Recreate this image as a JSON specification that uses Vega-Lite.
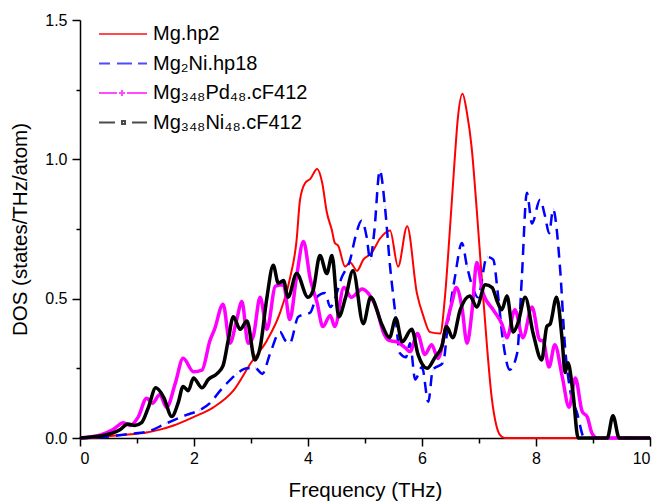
{
  "$schema": "https://vega.github.io/schema/vega-lite/v6.json",
  "width": 570,
  "height": 418,
  "autosize": "none",
  "padding": {"left": 80, "top": 20, "right": 9, "bottom": 63},
  "background": "white",
  "config": {
    "font": "Liberation Sans",
    "view": {"stroke": null},
    "axis": {"grid": false, "domainColor": "#000", "domainWidth": 1.5, "tickColor": "#000", "tickWidth": 1.5, "labelColor": "#000", "labelFontSize": 16, "titleColor": "#000", "titleFontSize": 20.5, "titleFontWeight": "normal", "labelFont": "Liberation Sans", "titleFont": "Liberation Sans"}
  },
  "datasets": {
    "d": [
      {"s":"a","x":0,"y":0},{"s":"a","x":0.3,"y":0.002},{"s":"a","x":0.53,"y":0.007},{"s":"a","x":0.8,"y":0.012},{"s":"a","x":1.17,"y":0.02},{"s":"a","x":1.4,"y":0.03},{"s":"a","x":1.64,"y":0.045},{"s":"a","x":1.99,"y":0.075},{"s":"a","x":2.34,"y":0.11},{"s":"a","x":2.69,"y":0.17},{"s":"a","x":3.0,"y":0.27},{"s":"a","x":3.28,"y":0.35},{"s":"a","x":3.51,"y":0.45},{"s":"a","x":3.68,"y":0.57},{"s":"a","x":3.8,"y":0.71},{"s":"a","x":3.86,"y":0.855},{"s":"a","x":3.95,"y":0.915},{"s":"a","x":4.04,"y":0.93},{"s":"a","x":4.16,"y":0.965},{"s":"a","x":4.25,"y":0.915},{"s":"a","x":4.33,"y":0.81},{"s":"a","x":4.42,"y":0.745},{"s":"a","x":4.47,"y":0.70},{"s":"a","x":4.53,"y":0.69},{"s":"a","x":4.65,"y":0.615},{"s":"a","x":4.74,"y":0.63},{"s":"a","x":4.86,"y":0.60},{"s":"a","x":4.97,"y":0.64},{"s":"a","x":5.12,"y":0.665},{"s":"a","x":5.26,"y":0.715},{"s":"a","x":5.44,"y":0.745},{"s":"a","x":5.58,"y":0.615},{"s":"a","x":5.74,"y":0.76},{"s":"a","x":5.91,"y":0.52},{"s":"a","x":6.02,"y":0.44},{"s":"a","x":6.14,"y":0.38},{"s":"a","x":6.32,"y":0.375},{"s":"a","x":6.40,"y":0.50},{"s":"a","x":6.48,"y":0.72},{"s":"a","x":6.56,"y":0.96},{"s":"a","x":6.63,"y":1.15},{"s":"a","x":6.71,"y":1.235},{"s":"a","x":6.79,"y":1.165},{"s":"a","x":6.87,"y":1.045},{"s":"a","x":6.96,"y":0.82},{"s":"a","x":7.05,"y":0.57},{"s":"a","x":7.14,"y":0.33},{"s":"a","x":7.22,"y":0.15},{"s":"a","x":7.31,"y":0.04},{"s":"a","x":7.37,"y":0.01},{"s":"a","x":7.45,"y":0},{"s":"a","x":10,"y":0},
      {"s":"b","x":0,"y":0},{"s":"b","x":0.3,"y":0.002},{"s":"b","x":0.58,"y":0.007},{"s":"b","x":0.88,"y":0.015},{"s":"b","x":1.17,"y":0.022},{"s":"b","x":1.52,"y":0.053},{"s":"b","x":1.87,"y":0.083},{"s":"b","x":2.1,"y":0.10},{"s":"b","x":2.28,"y":0.125},{"s":"b","x":2.46,"y":0.17},{"s":"b","x":2.57,"y":0.195},{"s":"b","x":2.75,"y":0.23},{"s":"b","x":2.93,"y":0.25},{"s":"b","x":3.08,"y":0.25},{"s":"b","x":3.2,"y":0.23},{"s":"b","x":3.33,"y":0.30},{"s":"b","x":3.51,"y":0.38},{"s":"b","x":3.6,"y":0.35},{"s":"b","x":3.68,"y":0.34},{"s":"b","x":3.83,"y":0.435},{"s":"b","x":4.04,"y":0.45},{"s":"b","x":4.15,"y":0.505},{"s":"b","x":4.3,"y":0.52},{"s":"b","x":4.39,"y":0.47},{"s":"b","x":4.6,"y":0.58},{"s":"b","x":4.74,"y":0.64},{"s":"b","x":4.83,"y":0.72},{"s":"b","x":4.94,"y":0.78},{"s":"b","x":5.03,"y":0.72},{"s":"b","x":5.09,"y":0.64},{"s":"b","x":5.16,"y":0.735},{"s":"b","x":5.26,"y":0.96},{"s":"b","x":5.35,"y":0.83},{"s":"b","x":5.44,"y":0.615},{"s":"b","x":5.53,"y":0.45},{"s":"b","x":5.61,"y":0.305},{"s":"b","x":5.72,"y":0.29},{"s":"b","x":5.79,"y":0.34},{"s":"b","x":5.88,"y":0.21},{"s":"b","x":6.0,"y":0.255},{"s":"b","x":6.11,"y":0.13},{"s":"b","x":6.19,"y":0.245},{"s":"b","x":6.37,"y":0.27},{"s":"b","x":6.46,"y":0.42},{"s":"b","x":6.58,"y":0.58},{"s":"b","x":6.70,"y":0.70},{"s":"b","x":6.79,"y":0.615},{"s":"b","x":6.89,"y":0.54},{"s":"b","x":6.98,"y":0.505},{"s":"b","x":7.14,"y":0.65},{"s":"b","x":7.25,"y":0.64},{"s":"b","x":7.33,"y":0.52},{"s":"b","x":7.42,"y":0.35},{"s":"b","x":7.54,"y":0.245},{"s":"b","x":7.67,"y":0.305},{"s":"b","x":7.75,"y":0.57},{"s":"b","x":7.84,"y":0.88},{"s":"b","x":7.93,"y":0.77},{"s":"b","x":8.07,"y":0.855},{"s":"b","x":8.16,"y":0.795},{"s":"b","x":8.23,"y":0.735},{"s":"b","x":8.30,"y":0.82},{"s":"b","x":8.42,"y":0.615},{"s":"b","x":8.51,"y":0.325},{"s":"b","x":8.6,"y":0.17},{"s":"b","x":8.72,"y":0.09},{"s":"b","x":8.85,"y":0},{"s":"b","x":10,"y":0},
      {"s":"c","x":0,"y":0},{"s":"c","x":0.35,"y":0.01},{"s":"c","x":0.58,"y":0.03},{"s":"c","x":0.76,"y":0.055},{"s":"c","x":0.88,"y":0.045},{"s":"c","x":1.02,"y":0.075},{"s":"c","x":1.17,"y":0.143},{"s":"c","x":1.27,"y":0.125},{"s":"c","x":1.4,"y":0.155},{"s":"c","x":1.52,"y":0.11},{"s":"c","x":1.67,"y":0.195},{"s":"c","x":1.81,"y":0.286},{"s":"c","x":1.99,"y":0.238},{"s":"c","x":2.14,"y":0.244},{"s":"c","x":2.28,"y":0.35},{"s":"c","x":2.36,"y":0.39},{"s":"c","x":2.51,"y":0.48},{"s":"c","x":2.63,"y":0.34},{"s":"c","x":2.75,"y":0.425},{"s":"c","x":2.84,"y":0.49},{"s":"c","x":2.95,"y":0.34},{"s":"c","x":3.04,"y":0.365},{"s":"c","x":3.16,"y":0.505},{"s":"c","x":3.28,"y":0.39},{"s":"c","x":3.43,"y":0.545},{"s":"c","x":3.57,"y":0.55},{"s":"c","x":3.68,"y":0.425},{"s":"c","x":3.8,"y":0.58},{"s":"c","x":3.92,"y":0.705},{"s":"c","x":4.04,"y":0.57},{"s":"c","x":4.16,"y":0.485},{"s":"c","x":4.26,"y":0.40},{"s":"c","x":4.39,"y":0.44},{"s":"c","x":4.47,"y":0.40},{"s":"c","x":4.63,"y":0.54},{"s":"c","x":4.76,"y":0.505},{"s":"c","x":4.95,"y":0.535},{"s":"c","x":5.09,"y":0.51},{"s":"c","x":5.21,"y":0.46},{"s":"c","x":5.32,"y":0.38},{"s":"c","x":5.42,"y":0.35},{"s":"c","x":5.56,"y":0.345},{"s":"c","x":5.7,"y":0.325},{"s":"c","x":5.79,"y":0.31},{"s":"c","x":5.92,"y":0.375},{"s":"c","x":6.05,"y":0.30},{"s":"c","x":6.17,"y":0.335},{"s":"c","x":6.28,"y":0.285},{"s":"c","x":6.42,"y":0.40},{"s":"c","x":6.53,"y":0.49},{"s":"c","x":6.6,"y":0.54},{"s":"c","x":6.70,"y":0.47},{"s":"c","x":6.79,"y":0.34},{"s":"c","x":6.88,"y":0.46},{"s":"c","x":6.96,"y":0.63},{"s":"c","x":7.07,"y":0.52},{"s":"c","x":7.25,"y":0.46},{"s":"c","x":7.4,"y":0.41},{"s":"c","x":7.49,"y":0.36},{"s":"c","x":7.63,"y":0.46},{"s":"c","x":7.77,"y":0.36},{"s":"c","x":7.93,"y":0.47},{"s":"c","x":8.07,"y":0.35},{"s":"c","x":8.12,"y":0.35},{"s":"c","x":8.23,"y":0.255},{"s":"c","x":8.33,"y":0.335},{"s":"c","x":8.46,"y":0.22},{"s":"c","x":8.58,"y":0.11},{"s":"c","x":8.69,"y":0.215},{"s":"c","x":8.81,"y":0.095},{"s":"c","x":8.9,"y":0.075},{"s":"c","x":8.98,"y":0.018},{"s":"c","x":9.07,"y":0},{"s":"c","x":10,"y":0},
      {"s":"d","x":0,"y":0},{"s":"d","x":0.35,"y":0.007},{"s":"d","x":0.58,"y":0.018},{"s":"d","x":0.7,"y":0.03},{"s":"d","x":0.84,"y":0.05},{"s":"d","x":0.96,"y":0.045},{"s":"d","x":1.08,"y":0.055},{"s":"d","x":1.2,"y":0.11},{"s":"d","x":1.33,"y":0.18},{"s":"d","x":1.47,"y":0.145},{"s":"d","x":1.61,"y":0.077},{"s":"d","x":1.72,"y":0.125},{"s":"d","x":1.81,"y":0.185},{"s":"d","x":1.9,"y":0.17},{"s":"d","x":1.99,"y":0.215},{"s":"d","x":2.14,"y":0.18},{"s":"d","x":2.25,"y":0.21},{"s":"d","x":2.4,"y":0.23},{"s":"d","x":2.51,"y":0.26},{"s":"d","x":2.6,"y":0.35},{"s":"d","x":2.69,"y":0.435},{"s":"d","x":2.81,"y":0.39},{"s":"d","x":2.93,"y":0.42},{"s":"d","x":3.07,"y":0.28},{"s":"d","x":3.16,"y":0.325},{"s":"d","x":3.28,"y":0.505},{"s":"d","x":3.39,"y":0.62},{"s":"d","x":3.48,"y":0.555},{"s":"d","x":3.57,"y":0.565},{"s":"d","x":3.65,"y":0.505},{"s":"d","x":3.8,"y":0.59},{"s":"d","x":4.0,"y":0.505},{"s":"d","x":4.09,"y":0.53},{"s":"d","x":4.21,"y":0.655},{"s":"d","x":4.33,"y":0.59},{"s":"d","x":4.42,"y":0.655},{"s":"d","x":4.54,"y":0.435},{"s":"d","x":4.66,"y":0.505},{"s":"d","x":4.79,"y":0.60},{"s":"d","x":4.97,"y":0.41},{"s":"d","x":5.1,"y":0.505},{"s":"d","x":5.3,"y":0.405},{"s":"d","x":5.43,"y":0.36},{"s":"d","x":5.54,"y":0.43},{"s":"d","x":5.65,"y":0.345},{"s":"d","x":5.82,"y":0.39},{"s":"d","x":5.93,"y":0.30},{"s":"d","x":6.09,"y":0.25},{"s":"d","x":6.23,"y":0.29},{"s":"d","x":6.35,"y":0.33},{"s":"d","x":6.43,"y":0.40},{"s":"d","x":6.54,"y":0.36},{"s":"d","x":6.67,"y":0.46},{"s":"d","x":6.84,"y":0.51},{"s":"d","x":6.96,"y":0.47},{"s":"d","x":7.11,"y":0.55},{"s":"d","x":7.23,"y":0.54},{"s":"d","x":7.32,"y":0.49},{"s":"d","x":7.40,"y":0.46},{"s":"d","x":7.49,"y":0.51},{"s":"d","x":7.6,"y":0.38},{"s":"d","x":7.68,"y":0.41},{"s":"d","x":7.81,"y":0.505},{"s":"d","x":7.95,"y":0.375},{"s":"d","x":8.1,"y":0.28},{"s":"d","x":8.19,"y":0.40},{"s":"d","x":8.25,"y":0.41},{"s":"d","x":8.36,"y":0.505},{"s":"d","x":8.46,"y":0.35},{"s":"d","x":8.51,"y":0.235},{"s":"d","x":8.56,"y":0.27},{"s":"d","x":8.65,"y":0.16},{"s":"d","x":8.74,"y":0},{"s":"d","x":9.25,"y":0},{"s":"d","x":9.35,"y":0.08},{"s":"d","x":9.46,"y":0},{"s":"d","x":10,"y":0}
    ]
  },
  "data": {"name": "d"},
  "encoding": {
    "x": {"field": "x", "type": "quantitative", "scale": {"domain": [0, 10], "nice": false}, "axis": {"title": "Frequency (THz)", "values": [0,1,2,3,4,5,6,7,8,9,10], "format": "d", "labelExpr": "datum.value % 2 === 0 ? datum.label : ''", "tickSize": {"condition": {"test": "datum.value % 2 === 0", "value": 8}, "value": 5}, "labelPadding": 4, "titlePadding": 14}},
    "y": {"field": "y", "type": "quantitative", "scale": {"domain": [0, 1.5], "nice": false}, "axis": {"title": "DOS (states/THz/atom)", "values": [0,0.25,0.5,0.75,1,1.25,1.5], "format": ".1f", "labelExpr": "(datum.value * 2) % 1 === 0 ? datum.label : ''", "tickSize": {"condition": {"test": "(datum.value * 2) % 1 === 0", "value": 8}, "value": 4}, "labelPadding": 5, "titlePadding": 14}}
  },
  "layer": [
    {
      "mark": {"type": "point", "size": 0.01, "filled": false, "strokeWidth": 2},
      "encoding": {
        "color": {"field": "s", "type": "nominal", "scale": {"domain": ["a","b","c","d"], "range": ["#ff0000","#0000ff","#ff00ff","#000000"]},
          "legend": {"title": null, "orient": "none", "legendX": 14, "legendY": 4, "symbolSize": 100, "symbolStrokeWidth": 2, "labelFontSize": 20, "labelOffset": 39, "rowPadding": 9.5, "labelColor": "#000",
            "labelExpr": "datum.value === 'a' ? 'Mg.hp2' : datum.value === 'b' ? 'Mg₂Ni.hp18' : datum.value === 'c' ? 'Mg₃₄₈Pd₄₈.cF412' : 'Mg₃₄₈Ni₄₈.cF412'"}},
        "shape": {"field": "s", "type": "nominal", "scale": {"domain": ["a","b","c","d"], "range": ["M-1,0L8.6,0", "M-1,0L1.2,0M2.6,0L5.6,0M6.8,0L8.6,0", "M-1,0L2.6,0M4.6,0L8.6,0M3.6,-0.6L3.6,0.6M3,0L4.2,0", "M-1,0L2.2,0M5.6,0L8.6,0M3.6,-0.3L4.2,-0.3L4.2,0.3L3.6,0.3Z"]},
          "legend": {"title": null, "orient": "none", "legendX": 14, "legendY": 4, "symbolSize": 100, "symbolStrokeWidth": 2, "labelFontSize": 20, "labelOffset": 39, "rowPadding": 9.5, "labelColor": "#000",
            "labelExpr": "datum.value === 'a' ? 'Mg.hp2' : datum.value === 'b' ? 'Mg₂Ni.hp18' : datum.value === 'c' ? 'Mg₃₄₈Pd₄₈.cF412' : 'Mg₃₄₈Ni₄₈.cF412'"}}
      }
    },
    {"transform": [{"filter": "datum.s === 'a'"}], "mark": {"type": "line", "color": "#ff0000", "strokeWidth": 2, "interpolate": "monotone"}},
    {"transform": [{"filter": "datum.s === 'b'"}], "mark": {"type": "line", "color": "#0000ff", "strokeWidth": 2.5, "strokeDash": [11, 7], "interpolate": "monotone"}},
    {"transform": [{"filter": "datum.s === 'c'"}], "mark": {"type": "line", "color": "#ff00ff", "strokeWidth": 3.5, "interpolate": "monotone"}},
    {"transform": [{"filter": "datum.s === 'd'"}], "mark": {"type": "line", "color": "#000000", "strokeWidth": 3.5, "interpolate": "monotone"}}
  ]
}
